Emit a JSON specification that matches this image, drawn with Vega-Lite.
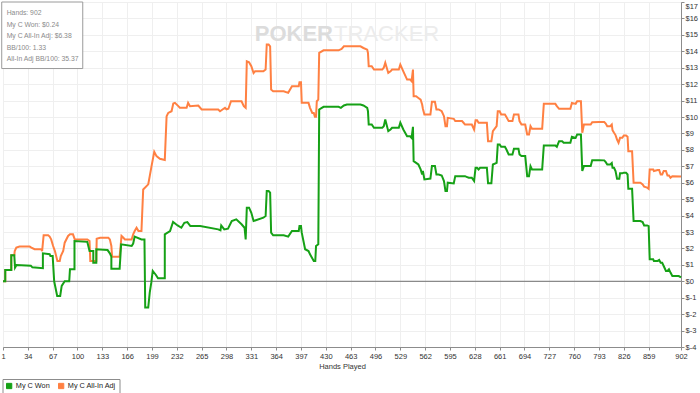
{
"$schema":"https://vega.github.io/schema/vega-lite/v6.json",
"width":678,"height":345,
"autosize":{"type":"none"},
"padding":{"left":3,"top":2,"right":19,"bottom":46},
"background":"#ffffff",
"config":{"view":{"stroke":"#8c8c8c","strokeWidth":1},"font":"Liberation Sans","axis":{"labelOverlap":false,"labelFlush":false,"labelBound":false,"tickCount":200}},
"datasets":{
"won":[{"h":1,"v":0},{"h":4,"v":0},{"h":4,"v":0.69},{"h":12,"v":0.69},{"h":12,"v":1.58},{"h":16,"v":1.58},{"h":17,"v":0.83},{"h":19,"v":0.99},{"h":38,"v":0.95},{"h":40,"v":0.85},{"h":54,"v":0.8},{"h":54,"v":1.7},{"h":63,"v":1.65},{"h":64,"v":1.54},{"h":67,"v":1.54},{"h":69,"v":0},{"h":73,"v":-0.89},{"h":77,"v":-0.89},{"h":79,"v":-0.28},{"h":83,"v":0},{"h":89,"v":0},{"h":90,"v":0.73},{"h":96,"v":0.73},{"h":96,"v":2.45},{"h":113,"v":2.4},{"h":116,"v":1.84},{"h":121,"v":1.84},{"h":121,"v":1.13},{"h":125,"v":1.13},{"h":125,"v":1.95},{"h":140,"v":1.9},{"h":143,"v":1.7},{"h":145,"v":1.5},{"h":145,"v":0.77},{"h":156,"v":0.77},{"h":158,"v":2.25},{"h":172,"v":2.15},{"h":174,"v":2.3},{"h":176,"v":2.72},{"h":185,"v":2.55},{"h":189,"v":2.55},{"h":190,"v":-1.6},{"h":194,"v":-1.6},{"h":196,"v":-0.69},{"h":198,"v":-0.1},{"h":200,"v":0.63},{"h":204,"v":0.4},{"h":207,"v":0.18},{"h":216,"v":0.18},{"h":216,"v":2.86},{"h":223,"v":3.06},{"h":227,"v":3.61},{"h":233,"v":3.4},{"h":238,"v":3.26},{"h":242,"v":3.56},{"h":246,"v":3.6},{"h":250,"v":3.36},{"h":263,"v":3.36},{"h":287,"v":3.16},{"h":290,"v":3.1},{"h":291,"v":3.4},{"h":295,"v":3.16},{"h":300,"v":3.2},{"h":305,"v":3.67},{"h":311,"v":3.77},{"h":318,"v":3.47},{"h":322,"v":3.26},{"h":323.5,"v":2.55},{"h":325,"v":4.48},{"h":328,"v":4.48},{"h":331,"v":4.17},{"h":334,"v":3.67},{"h":347,"v":3.87},{"h":350,"v":3.97},{"h":351.5,"v":5.49},{"h":354,"v":5.49},{"h":356,"v":5.39},{"h":357.3,"v":2.96},{"h":360,"v":2.8},{"h":374,"v":2.8},{"h":380,"v":2.72},{"h":385,"v":3.06},{"h":394,"v":3.06},{"h":395,"v":3.36},{"h":397,"v":3.36},{"h":398,"v":2.96},{"h":402.5,"v":1.95},{"h":407,"v":1.84},{"h":409,"v":1.64},{"h":414,"v":1.23},{"h":416,"v":1.23},{"h":417,"v":2.15},{"h":420,"v":2.25},{"h":421.2,"v":10.46},{"h":427,"v":10.62},{"h":447,"v":10.62},{"h":450,"v":10.56},{"h":454,"v":10.7},{"h":458,"v":10.76},{"h":476,"v":10.76},{"h":480,"v":10.7},{"h":485,"v":10.56},{"h":486,"v":10.35},{"h":487,"v":9.54},{"h":491,"v":9.54},{"h":494,"v":9.34},{"h":505,"v":9.34},{"h":507,"v":9.44},{"h":509,"v":9.85},{"h":513,"v":9.14},{"h":516,"v":9.24},{"h":518,"v":9.34},{"h":527,"v":9.34},{"h":529,"v":9.65},{"h":533,"v":9.24},{"h":538,"v":8.83},{"h":542,"v":8.83},{"h":544,"v":8.73},{"h":545.8,"v":9.4},{"h":546.7,"v":7.31},{"h":550,"v":7.21},{"h":553,"v":7.11},{"h":556,"v":6.81},{"h":558,"v":6.5},{"h":559,"v":6.71},{"h":561,"v":6.2},{"h":569,"v":6.25},{"h":571,"v":7.01},{"h":575,"v":7.01},{"h":577,"v":6.5},{"h":580,"v":6.5},{"h":584,"v":6.44},{"h":587,"v":6.1},{"h":589,"v":5.49},{"h":591,"v":5.49},{"h":592,"v":6.0},{"h":600,"v":5.96},{"h":602,"v":6.4},{"h":611,"v":6.4},{"h":615,"v":6.4},{"h":617,"v":6.36},{"h":620,"v":6.3},{"h":624,"v":6.3},{"h":627,"v":6.1},{"h":629,"v":6.91},{"h":631,"v":6.91},{"h":633,"v":6.81},{"h":635,"v":6.91},{"h":644,"v":6.91},{"h":645.6,"v":5.96},{"h":650,"v":5.96},{"h":652,"v":7.11},{"h":657,"v":7.21},{"h":658.5,"v":8.33},{"h":661,"v":8.33},{"h":663,"v":8.19},{"h":668,"v":8.19},{"h":670,"v":8.02},{"h":673,"v":7.72},{"h":678,"v":7.72},{"h":680,"v":8.07},{"h":686,"v":8.07},{"h":687.4,"v":7.72},{"h":690,"v":7.62},{"h":695,"v":7.62},{"h":697.6,"v":6.4},{"h":700,"v":6.4},{"h":702,"v":7.01},{"h":704,"v":6.81},{"h":717.5,"v":6.81},{"h":719.7,"v":8.27},{"h":735,"v":8.27},{"h":737,"v":8.19},{"h":740,"v":8.53},{"h":744,"v":8.53},{"h":746,"v":8.43},{"h":755,"v":8.43},{"h":757,"v":8.8},{"h":762,"v":8.73},{"h":764,"v":8.94},{"h":769,"v":8.94},{"h":770.8,"v":6.71},{"h":773,"v":7.01},{"h":782,"v":7.01},{"h":784,"v":7.37},{"h":793,"v":7.37},{"h":800,"v":7.36},{"h":802,"v":7.25},{"h":804,"v":7.11},{"h":808,"v":7.11},{"h":810,"v":7.2},{"h":811,"v":6.91},{"h":813,"v":6.91},{"h":815,"v":6.71},{"h":817,"v":6.24},{"h":820,"v":6.24},{"h":821,"v":6.57},{"h":824,"v":6.57},{"h":826,"v":6.61},{"h":829,"v":6.61},{"h":831,"v":6.5},{"h":832,"v":5.63},{"h":837,"v":5.63},{"h":839,"v":3.67},{"h":848,"v":3.67},{"h":851,"v":3.61},{"h":853,"v":3.4},{"h":857,"v":3.4},{"h":859,"v":3.36},{"h":860.4,"v":1.34},{"h":865,"v":1.34},{"h":866,"v":1.24},{"h":871,"v":1.24},{"h":873,"v":1.3},{"h":875,"v":1.13},{"h":877,"v":1.13},{"h":879,"v":0.93},{"h":882,"v":0.63},{"h":884,"v":0.63},{"h":886,"v":0.73},{"h":888,"v":0.53},{"h":890.5,"v":0.32},{"h":899,"v":0.32},{"h":902,"v":0.24}],
"adj":[{"h":1,"v":0},{"h":4,"v":0},{"h":4,"v":0.69},{"h":12,"v":0.69},{"h":12,"v":1.58},{"h":16,"v":1.58},{"h":16.6,"v":1.84},{"h":18.7,"v":2.05},{"h":23,"v":2.11},{"h":36.5,"v":2.11},{"h":38.7,"v":2.05},{"h":43,"v":1.95},{"h":52,"v":1.95},{"h":53,"v":1.84},{"h":55,"v":2.8},{"h":61,"v":2.8},{"h":63,"v":2.72},{"h":65,"v":2.55},{"h":67.6,"v":2.15},{"h":70,"v":1.84},{"h":73.3,"v":1.24},{"h":76.4,"v":1.24},{"h":77.8,"v":1.54},{"h":81,"v":1.84},{"h":83,"v":2.35},{"h":87.5,"v":2.76},{"h":90,"v":2.86},{"h":94,"v":2.86},{"h":96.4,"v":2.55},{"h":113,"v":2.55},{"h":116,"v":2.45},{"h":117,"v":1.24},{"h":125,"v":1.24},{"h":125.5,"v":2.59},{"h":130,"v":2.65},{"h":141,"v":2.65},{"h":143,"v":2.55},{"h":145,"v":2.15},{"h":146,"v":1.5},{"h":156,"v":1.5},{"h":158.5,"v":2.76},{"h":161,"v":2.65},{"h":163,"v":2.55},{"h":172,"v":2.55},{"h":174,"v":2.86},{"h":176,"v":3.06},{"h":178.5,"v":3.26},{"h":181,"v":3.06},{"h":185,"v":3.06},{"h":187.3,"v":5.59},{"h":194,"v":5.9},{"h":196,"v":6.4},{"h":198.4,"v":7.01},{"h":202,"v":7.88},{"h":205,"v":7.62},{"h":209.5,"v":7.46},{"h":216,"v":7.38},{"h":218.4,"v":10.05},{"h":220.6,"v":10.25},{"h":225,"v":10.35},{"h":227.3,"v":10.82},{"h":229.5,"v":10.86},{"h":234,"v":10.66},{"h":236,"v":10.56},{"h":245,"v":10.56},{"h":247,"v":10.86},{"h":249.5,"v":10.66},{"h":260.5,"v":10.7},{"h":265,"v":10.46},{"h":287,"v":10.46},{"h":289.4,"v":10.35},{"h":296,"v":10.56},{"h":298,"v":10.46},{"h":300.5,"v":10.5},{"h":304,"v":10.96},{"h":312,"v":10.96},{"h":318,"v":10.96},{"h":321,"v":10.66},{"h":323.5,"v":10.56},{"h":325,"v":13.39},{"h":328,"v":13.33},{"h":331,"v":13.09},{"h":334,"v":12.68},{"h":336,"v":12.78},{"h":347,"v":12.78},{"h":350,"v":12.89},{"h":351.5,"v":14.41},{"h":354,"v":14.41},{"h":356,"v":14.3},{"h":357.3,"v":11.67},{"h":360,"v":11.57},{"h":374,"v":11.57},{"h":380,"v":11.47},{"h":385,"v":11.87},{"h":394,"v":11.87},{"h":395,"v":12.12},{"h":397,"v":12.12},{"h":398,"v":10.86},{"h":407,"v":10.86},{"h":409,"v":10.56},{"h":412,"v":10.25},{"h":414,"v":10.25},{"h":415.5,"v":10.01},{"h":417,"v":10.01},{"h":418,"v":10.96},{"h":420,"v":11.06},{"h":421.2,"v":13.9},{"h":427,"v":14.06},{"h":447,"v":14.06},{"h":451,"v":14.14},{"h":454,"v":14.3},{"h":476,"v":14.3},{"h":480,"v":14.2},{"h":485,"v":14.1},{"h":486,"v":13.9},{"h":487,"v":13.09},{"h":491,"v":13.09},{"h":494,"v":12.89},{"h":505,"v":12.89},{"h":507,"v":13.0},{"h":509,"v":13.3},{"h":513,"v":12.68},{"h":516,"v":12.78},{"h":518,"v":12.89},{"h":527,"v":12.89},{"h":529,"v":13.19},{"h":533,"v":12.78},{"h":538,"v":12.28},{"h":542,"v":12.28},{"h":544,"v":12.18},{"h":545.8,"v":12.89},{"h":546.7,"v":11.26},{"h":550,"v":11.26},{"h":553,"v":11.16},{"h":556,"v":11.06},{"h":558,"v":10.76},{"h":559,"v":10.5},{"h":561,"v":10.15},{"h":569,"v":10.15},{"h":571,"v":10.93},{"h":575,"v":10.93},{"h":577,"v":10.46},{"h":580,"v":10.46},{"h":584,"v":10.35},{"h":587,"v":10.05},{"h":589,"v":9.44},{"h":591,"v":9.44},{"h":592,"v":9.95},{"h":600,"v":9.89},{"h":602,"v":9.75},{"h":611,"v":9.75},{"h":613,"v":9.65},{"h":615,"v":9.54},{"h":624,"v":9.54},{"h":627,"v":9.24},{"h":629,"v":9.8},{"h":631,"v":9.8},{"h":633,"v":9.65},{"h":644,"v":9.65},{"h":645.6,"v":8.53},{"h":650,"v":8.53},{"h":652,"v":9.14},{"h":657,"v":9.44},{"h":658.5,"v":10.35},{"h":661,"v":10.35},{"h":663,"v":10.15},{"h":668,"v":10.15},{"h":670,"v":10.0},{"h":673,"v":9.75},{"h":678,"v":9.75},{"h":680,"v":10.15},{"h":686,"v":10.15},{"h":687.4,"v":9.75},{"h":690,"v":9.54},{"h":695,"v":9.54},{"h":697.6,"v":8.94},{"h":700,"v":8.94},{"h":702,"v":9.44},{"h":704,"v":9.28},{"h":717.5,"v":9.28},{"h":719.7,"v":10.8},{"h":735,"v":10.8},{"h":737,"v":10.66},{"h":740,"v":10.5},{"h":755,"v":10.5},{"h":757,"v":10.86},{"h":762,"v":10.8},{"h":764,"v":10.96},{"h":769,"v":10.96},{"h":770.8,"v":9.04},{"h":773,"v":9.54},{"h":782,"v":9.54},{"h":784,"v":9.68},{"h":793,"v":9.69},{"h":800,"v":9.69},{"h":802,"v":9.6},{"h":804,"v":9.44},{"h":808,"v":9.44},{"h":810,"v":9.54},{"h":811,"v":9.2},{"h":813,"v":9.04},{"h":815,"v":8.9},{"h":817,"v":8.63},{"h":819,"v":8.43},{"h":821,"v":8.73},{"h":824,"v":8.73},{"h":826,"v":8.88},{"h":829,"v":8.88},{"h":831,"v":8.8},{"h":832,"v":7.92},{"h":837,"v":7.92},{"h":839,"v":6.0},{"h":848,"v":6.0},{"h":851,"v":5.9},{"h":853,"v":5.76},{"h":857,"v":5.7},{"h":859,"v":5.63},{"h":860.4,"v":6.81},{"h":865,"v":6.81},{"h":866,"v":6.71},{"h":871,"v":6.77},{"h":873,"v":6.77},{"h":875,"v":6.5},{"h":877,"v":6.5},{"h":879,"v":6.71},{"h":882,"v":6.71},{"h":884,"v":6.44},{"h":886,"v":6.44},{"h":888,"v":6.3},{"h":890.5,"v":6.4},{"h":902,"v":6.38}],
"info":[{"t":"Hands: 902","h":5.9,"v":16.32},{"t":"My C Won: $0.24","h":5.9,"v":15.62},{"t":"My C All-In Adj: $6.38","h":5.9,"v":14.92},{"t":"BB/100: 1.33","h":5.9,"v":14.22},{"t":"All-In Adj BB/100: 35.37","h":5.9,"v":13.53}],
"box":[{"x1":-0.7,"x2":107,"y1":12.95,"y2":17}],
"wm":[{"t":"POKER","h":439.5,"v":14.6,"side":"l"},{"t":"TRACKER","h":441,"v":14.6,"side":"r"}]
},
"layer":[
{"data":{"name":"wm"},"transform":[{"filter":"datum.side == 'l'"}],
 "mark":{"type":"text","align":"right","baseline":"alphabetic","font":"Liberation Sans","fontSize":22,"fontWeight":"bold","color":"#dcdcdc"},
 "encoding":{
  "x":{"field":"h","type":"quantitative","scale":{"domain":[1,902],"nice":false,"zero":false},
   "axis":{"values":[1,34,67,100,133,166,199,232,265,298,331,364,397,430,463,496,529,562,595,628,661,694,727,760,793,826,859,902],"tickCount":200,
    "title":"Hands Played","titleFontSize":7.5,"titleFontWeight":"normal","titleColor":"#333333","titlePadding":3,"titleFont":"Liberation Sans",
    "labelFontSize":7.5,"labelColor":"#333333","labelFont":"Liberation Sans","labelFlush":false,"labelOverlap":false,"labelPadding":2,
    "tickColor":"#8c8c8c","tickSize":3,"domainColor":"#8c8c8c","grid":true,"gridColor":"#efefef"}},
  "y":{"field":"v","type":"quantitative","scale":{"domain":[-4,17],"nice":false,"zero":false},
   "axis":{"orient":"right","values":[-4,-3,-2,-1,0,1,2,3,4,5,6,7,8,9,10,11,12,13,14,15,16,17],"tickCount":200,"labelExpr":"'$' + datum.value","title":null,
    "labelFontSize":7.5,"labelColor":"#333333","labelFont":"Liberation Sans","labelPadding":1,"labelFlush":false,"labelOverlap":false,
    "labelBaseline":{"condition":{"test":"datum.value == 17","value":"top"},"value":"middle"},
    "tickColor":"#8c8c8c","tickSize":3,"domainColor":"#8c8c8c","grid":true,"gridColor":"#efefef"}},
  "text":{"field":"t"}}},
{"data":{"name":"wm"},"transform":[{"filter":"datum.side == 'r'"}],
 "mark":{"type":"text","align":"left","baseline":"alphabetic","font":"Liberation Sans","fontSize":22,"fontWeight":"normal","color":"#ececec"},
 "encoding":{"x":{"field":"h","type":"quantitative","scale":{"domain":[1,902],"nice":false,"zero":false}},"y":{"field":"v","type":"quantitative","scale":{"domain":[-4,17],"nice":false,"zero":false}},"text":{"field":"t"}}},
{"data":{"values":[{"v":0}]},"mark":{"type":"rule","color":"#6e6e6e","strokeWidth":1},
 "encoding":{"y":{"field":"v","type":"quantitative","scale":{"domain":[-4,17],"nice":false,"zero":false}}}},
{"data":{"name":"adj"},"mark":{"type":"line","strokeWidth":2,"strokeJoin":"miter"},
 "encoding":{"x":{"field":"h","type":"quantitative","scale":{"domain":[1,902],"nice":false,"zero":false}},
  "y":{"field":"v","type":"quantitative","scale":{"domain":[-4,17],"nice":false,"zero":false}},
  "color":{"datum":"My C All-In Adj","scale":{"domain":["My C Won","My C All-In Adj"],"range":["#16a116","#ff8042"]},
   "legend":{"orient":"none","legendX":-0.5,"legendY":377,"direction":"horizontal","title":null,"symbolType":"square","symbolSize":28,
    "symbolStrokeWidth":1,"labelFontSize":7.3,"labelColor":"#222222","labelFont":"Liberation Sans","strokeColor":"#8c8c8c","fillColor":"#ffffff",
    "padding":3,"columnPadding":6,"labelOffset":3,
    "encode":{"symbols":{"update":{"fill":{"scale":"color","field":"value"},"stroke":{"value":"#333333"},"strokeWidth":{"value":1},"opacity":{"value":1},"fillOpacity":{"value":1}}}}}}}},
{"data":{"name":"won"},"mark":{"type":"line","strokeWidth":2,"strokeJoin":"miter"},
 "encoding":{"x":{"field":"h","type":"quantitative","scale":{"domain":[1,902],"nice":false,"zero":false}},
  "y":{"field":"v","type":"quantitative","scale":{"domain":[-4,17],"nice":false,"zero":false}},
  "color":{"datum":"My C Won"}}},
{"data":{"name":"box"},"mark":{"type":"rect","fill":"#ffffff","stroke":"#9a9a9a","strokeWidth":1},
 "encoding":{"x":{"field":"x1","type":"quantitative","scale":{"domain":[1,902],"nice":false,"zero":false}},"x2":{"field":"x2"},
  "y":{"field":"y1","type":"quantitative","scale":{"domain":[-4,17],"nice":false,"zero":false}},"y2":{"field":"y2"}}},
{"data":{"name":"info"},"mark":{"type":"text","align":"left","baseline":"middle","font":"Liberation Sans","fontSize":6.8,"color":"#8a8a8a"},
 "encoding":{"x":{"field":"h","type":"quantitative","scale":{"domain":[1,902],"nice":false,"zero":false}},
  "y":{"field":"v","type":"quantitative","scale":{"domain":[-4,17],"nice":false,"zero":false}},"text":{"field":"t"}}}
]
}
